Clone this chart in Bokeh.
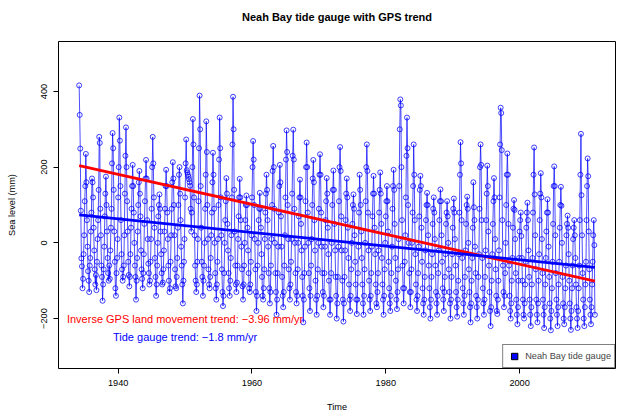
import numpy as np
from bokeh.plotting import figure
from bokeh.models import Range1d, FixedTicker, Label, Legend, LegendItem, Title
from bokeh.embed import file_html
from bokeh.resources import INLINE

# ---- data (monthly mean sea level, mm; series starts March 1934) ----
start_year = 1934
start_month = 3
sea_level_mm = [
    416, 338, 249, 85, -41, -62, -120, -95, -30, 20, 110, 150,      # 1934
    235, 160, 60, -10, -75, -100, -130, -60, -40, 30, 80, 170,      # 1935
    160, 120, 40, -20, -70, -110, -85, -125, -50, 10, 60, 140,      # 1936
    280, 264, 90, 20, -60, -90, -153, -110, -70, -10, 70, 130,      # 1937
    175, 100, 30, -40, -80, -100, -60, -95, -20, 40, 90, 210,       # 1938
    290, 250, 140, 30, -50, -120, -140, -80, -40, 10, 120, 200,     # 1939
    331, 270, 150, 60, -30, -70, -100, -90, -60, 20, 130, 230,      # 1940
    305, 200, 110, 30, -50, -85, -115, -90, -30, 40, 90, 150,       # 1941
    206, 150, 80, 0, -60, -90, -150, -100, -40, 30, 100, 160,       # 1942
    190, 130, 70, -20, -70, -95, -120, -80, -30, 50, 110, 170,      # 1943
    219, 170, 60, 10, -55, -80, -110, -100, -50, 10, 90, 200,       # 1944
    280, 210, 120, 40, -40, -90, -140, -110, -60, 0, 70, 100,       # 1945
    128, 90, 30, -30, -80, -110, -105, -70, -20, 30, 90, 150,       # 1946
    193, 150, 80, 10, -60, -100, -130, -120, -50, 20, 90, 160,      # 1947
    213, 170, 100, 20, -70, -115, -120, -90, -40, 40, 100, 180,     # 1948
    200, 130, 60, -10, -60, -110, -160, -100, -50, 10, 120, 210,    # 1949
    273, 192, 186, 180, 175, 168, 160, 151, 90, 30, 80, 200,        # 1950
    327, 260, 120, 20, -60, -100, -130, -110, -50, 10, 110, 250,    # 1951
    389, 300, 150, 40, -50, -90, -140, -100, -60, 0, 90, 180,       # 1952
    321, 240, 100, 10, -70, -110, -120, -90, -40, 20, 80, 160,      # 1953
    238, 180, 90, 0, -80, -120, -150, -110, -50, 10, 100, 220,      # 1954
    331, 250, 120, 20, -70, -130, -167, -140, -80, 0, 60, 110,      # 1955
    171, 130, 50, -20, -80, -120, -140, -100, -40, 20, 120, 260,    # 1956
    386, 300, 140, 30, -60, -110, -130, -105, -60, 10, 70, 120,     # 1957
    169, 120, 60, -10, -70, -115, -150, -110, -60, 0, 60, 100,      # 1958
    125, 100, 40, -20, -80, -120, -130, -110, -50, 20, 120, 200,    # 1959
    269, 220, 100, 10, -70, -130, -180, -140, -60, 0, 60, 90,       # 1960
    132, 90, 40, -30, -90, -140, -150, -120, -70, 10, 80, 130,      # 1961
    180, 140, 60, -10, -80, -120, -160, -130, -60, 10, 100, 190,    # 1962
    256, 200, 90, 0, -80, -130, -190, -150, -80, -10, 80, 150,      # 1963
    206, 160, 70, -10, -90, -140, -170, -130, -60, 20, 120, 220,    # 1964
    297, 240, 100, 10, -70, -120, -150, -110, -50, 10, 130, 230,    # 1965
    299, 220, 90, 0, -80, -130, -160, -140, -70, 0, 70, 120,        # 1966
    167, 120, 50, -20, -90, -140, -210, -150, -80, -10, 110, 200,   # 1967
    265, 200, 80, 0, -80, -120, -180, -140, -60, 10, 100, 170,      # 1968
    219, 160, 60, -20, -100, -150, -190, -140, -70, 0, 90, 180,     # 1969
    234, 180, 80, -10, -80, -130, -170, -140, -80, -10, 60, 110,    # 1970
    171, 130, 40, -30, -100, -150, -190, -150, -80, 0, 100, 140,    # 1971
    191, 140, 50, -20, -90, -140, -200, -160, -90, -10, 110, 200,   # 1972
    253, 190, 70, -20, -100, -150, -208, -160, -90, -20, 60, 130,   # 1973
    170, 120, 40, -40, -110, -150, -180, -140, -70, 0, 50, 100,     # 1974
    128, 90, 20, -50, -110, -150, -188, -150, -80, -10, 80, 180,    # 1975
    140, 100, 30, -40, -110, -160, -190, -140, -70, 0, 110, 200,    # 1976
    260, 190, 80, -20, -100, -150, -180, -140, -80, -10, 70, 130,   # 1977
    177, 130, 40, -30, -110, -160, -170, -130, -80, -20, 80, 140,   # 1978
    186, 130, 50, -40, -110, -150, -190, -140, -70, 0, 70, 110,     # 1979
    150, 110, 30, -50, -120, -160, -180, -140, -80, -10, 90, 150,   # 1980
    193, 140, 50, -40, -100, -150, -175, -130, -70, 10, 150, 300,   # 1981
    379, 363, 200, 60, -60, -120, -160, -120, -50, 20, 120, 230,    # 1982
    331, 250, 100, 0, -80, -130, -170, -130, -70, 0, 80, 150,       # 1983
    260, 180, 60, -30, -110, -150, -180, -140, -80, -10, 70, 140,   # 1984
    177, 150, 40, -50, -120, -160, -190, -150, -90, -20, 60, 100,   # 1985
    132, 100, 20, -60, -120, -170, -200, -150, -90, -30, 50, 90,    # 1986
    120, 80, 10, -60, -130, -160, -190, -140, -80, -20, 60, 110,    # 1987
    141, 110, 20, -50, -120, -150, -180, -130, -90, -30, 50, 80,    # 1988
    110, 70, 0, -70, -130, -160, -200, -150, -90, -30, 40, 90,      # 1989
    117, 80, 10, -60, -130, -170, -195, -150, -100, -30, 80, 180,   # 1990
    266, 210, 60, -40, -120, -160, -190, -140, -90, -20, 50, 100,   # 1991
    122, 90, 0, -70, -130, -170, -210, -160, -100, -40, 40, 160,    # 1992
    94, 60, -10, -80, -140, -170, -200, -150, -90, -30, 90, 200,    # 1993
    260, 206, 60, -40, -120, -160, -190, -150, -90, -20, 60, 130,   # 1994
    204, 150, 30, -60, -130, -180, -220, -170, -100, -30, 50, 110,  # 1995
    171, 120, 10, -70, -140, -180, -188, -150, -100, -20, 120, 260, # 1996
    357, 343, 245, 60, -60, -130, -170, -140, -80, 0, 100, 180,     # 1997
    236, 180, 50, -60, -140, -180, -200, -160, -100, -40, 40, 90,   # 1998
    113, 87, 10, -80, -150, -190, -215, -170, -100, -40, 30, 60,    # 1999
    80, 18, -40, -100, -150, -190, -200, -160, -110, -50, 40, 80,   # 2000
    106, 60, -20, -90, -150, -190, -220, -170, -110, -40, 80, 180,  # 2001
    252, 128, 20, -70, -150, -190, -210, -160, -100, -30, 60, 130,  # 2002
    184, 120, 10, -80, -150, -190, -225, -170, -110, -40, 30, 80,   # 2003
    115, 80, -10, -90, -160, -200, -231, -180, -120, -50, 50, 150,  # 2004
    202, 150, 20, -80, -150, -190, -220, -170, -110, -50, 40, 100,  # 2005
    148, 98, 0, -90, -160, -200, -215, -170, -120, -60, 20, 50,     # 2006
    72, 40, -30, -100, -160, -200, -230, -180, -120, -60, 10, 40,   # 2007
    60, 20, -40, -110, -170, -200, -225, -180, -120, -60, 60, 180,  # 2008
    288, 126, 20, -80, -150, -200, -220, -170, -110, -50, 60, 150,  # 2009
    223, 176, 30, -70, -150, -190, -215, -170, -110, -50, 20, 60,   # 2010
    -6, -190,                                                       # 2011
]

# trend lines (end points over the record)
trend_years = [1934.17, 2011.25]
gps_trend_mm = [204, -101]
gauge_trend_mm = [74, -65]
gps_rate = "−3.96"
gauge_rate = "−1.8"

x_ticks = [1940, 1960, 1980, 2000]
y_ticks = [-200, 0, 200, 400]
y_tick_labels = {-200: "−200", 0: "0", 200: "200", 400: "400"}

title_text = "Neah Bay tide gauge with GPS trend"

times = start_year + (start_month - 1) / 12 + np.arange(len(sea_level_mm)) / 12

FONT = "Liberation Sans"
X0, X1, Y0, Y1 = 1931.08, 2014.33, -332, 532

p = figure(width=617, height=414, output_backend="svg", toolbar_location=None,
           x_range=Range1d(X0, X1), y_range=Range1d(Y0, Y1),
           min_border_left=58, min_border_right=2, min_border_top=41, min_border_bottom=46)
p.background_fill_color = "white"
p.border_fill_color = "white"
p.outline_line_color = "black"
p.outline_line_width = 1
p.xgrid.visible = False
p.ygrid.visible = False

# spacer (nearest the frame) then the real title above it
p.add_layout(Title(text=" ", text_font_size="10px", standoff=6), "above")
p.add_layout(Title(text=title_text, align="center", text_font=FONT, text_font_size="11px",
                   text_font_style="bold", text_color="black", standoff=0), "above")

for ax in (p.xaxis[0], p.yaxis[0]):
    ax.axis_line_color = None
    ax.minor_tick_line_color = None
    ax.major_tick_in = 0
    ax.major_tick_out = 5
    ax.major_tick_line_color = "black"
    ax.major_label_text_font = FONT
    ax.major_label_text_font_size = "9.2px"
    ax.major_label_text_color = "black"
    ax.axis_label_text_font = FONT
    ax.axis_label_text_font_size = "9.2px"
    ax.axis_label_text_font_style = "normal"
    ax.axis_label_text_color = "black"
    ax.major_label_standoff = 6

p.xaxis.ticker = FixedTicker(ticks=x_ticks)
p.yaxis.ticker = FixedTicker(ticks=y_ticks)
p.yaxis.major_label_overrides = y_tick_labels
p.yaxis.major_label_orientation = "vertical"
p.xaxis.axis_label = "Time"
p.yaxis.axis_label = "Sea level (mm)"
p.xaxis.axis_label_standoff = 13
p.yaxis.axis_label_standoff = 22

p.line(times, sea_level_mm, line_color="blue", line_width=0.7)
p.scatter(times, sea_level_mm, marker="circle", size=5, fill_color=None,
          line_color="blue", line_width=0.75)

p.line(trend_years, gps_trend_mm, line_color="red", line_width=2.8)
p.line(trend_years, gauge_trend_mm, line_color="blue", line_width=2.8)

p.add_layout(Label(x=1950, y=-200, text=f"Inverse GPS land movement trend: {gps_rate} mm/yr",
                   text_color="red", text_font=FONT, text_font_size="11px",
                   text_align="center", text_baseline="middle"))
p.add_layout(Label(x=1950, y=-250, text=f"Tide gauge trend: {gauge_rate} mm/yr",
                   text_color="blue", text_font=FONT, text_font_size="11px",
                   text_align="center", text_baseline="middle"))

leg_r = p.scatter(x=[np.nan], y=[np.nan], marker="square", size=7,
                  fill_color="blue", line_color="black", line_width=1)
legend = Legend(items=[LegendItem(label="Neah Bay tide gauge", renderers=[leg_r])],
                location="bottom_right", margin=0, padding=3, spacing=0,
                glyph_width=16, glyph_height=16, label_height=12, label_standoff=3,
                label_text_font=FONT, label_text_font_size="9.2px",
                border_line_color="black", border_line_width=1,
                background_fill_color="white", background_fill_alpha=1)
p.add_layout(legend)

open("out.html", "w").write(file_html(p, INLINE))
